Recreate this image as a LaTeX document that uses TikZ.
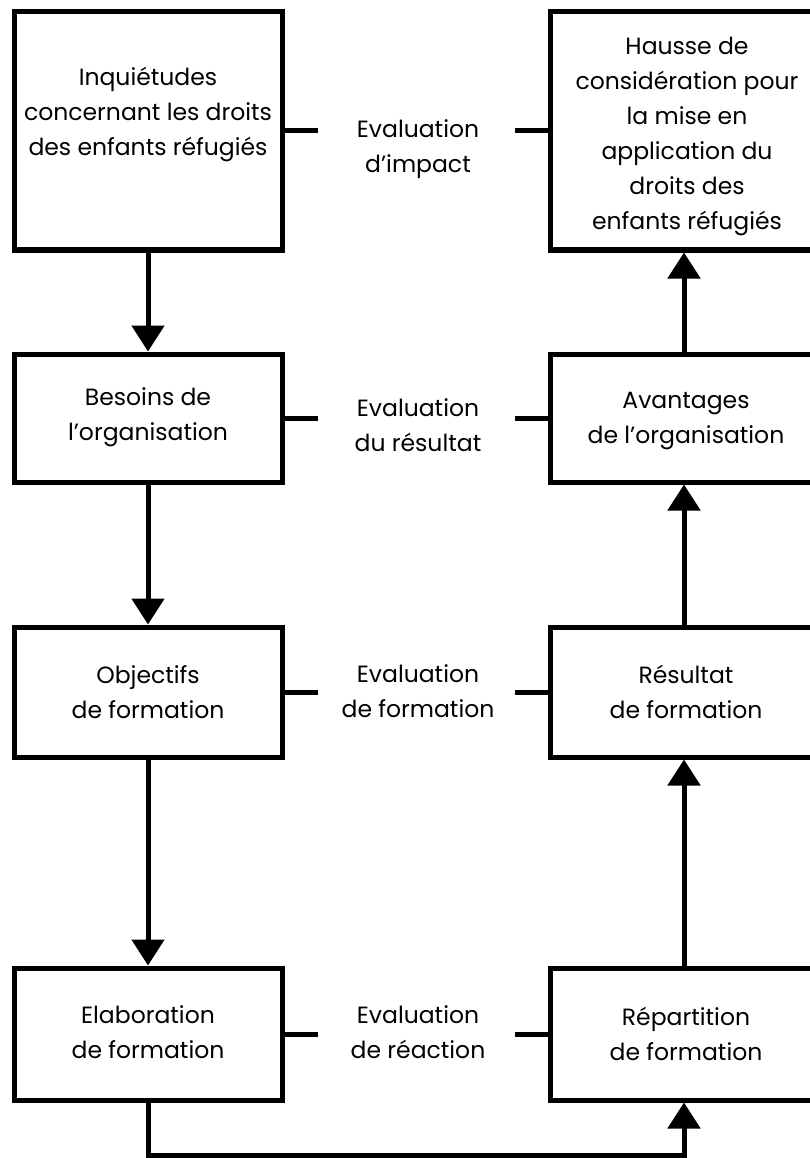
\documentclass[tikz,border=0pt]{standalone}
\usepackage{fontspec}
\setmainfont{Poppins}
\usetikzlibrary{arrows.meta}
\tikzset{
  box/.style={draw=black, line width=5pt, minimum width=268pt, inner sep=0pt},
  txt/.style={align=center, inner sep=0pt, text=black,
    font=\fontsize{23.5}{35}\selectfont},
  stub/.style={line width=5pt},
  arr/.style={line width=5pt, -{Triangle[length=26pt,width=32pt]}}
}
\begin{document}
\begin{tikzpicture}[x=1pt,y=-1pt]
\useasboundingbox (0,0) rectangle (810,1158);
\fill[white] (0,0) rectangle (810,1158);
\clip (0,0) rectangle (810,1158);

% left column
\node[box, minimum height=238pt] (b1) at (148,131) {};
\node[box, minimum height=128pt] (b2) at (148,418) {};
\node[box, minimum height=130pt] (b3) at (148,692) {};
\node[box, minimum height=132pt] (b4) at (148,1034) {};
% right column
\node[box, minimum height=238pt] (r1) at (684,131) {};
\node[box, minimum height=128pt] (r2) at (684,418) {};
\node[box, minimum height=130pt] (r3) at (684,692) {};
\node[box, minimum height=132pt] (r4) at (684,1034) {};

% box texts
\node[txt] (tb1) at (148,114) {Inquiétudes\\concernant les droits\\des enfants réfugiés};
\node[txt] (tb2) at (148,417) {Besoins de\\l’organisation};
\node[txt] (tb3) at (148,692) {Objectifs\\de formation};
\node[txt] (tb4) at (148,1032) {Elaboration\\de formation};
\node[txt] (tr1) at (687,136) {Hausse de\\considération pour\\la mise en\\application du\\droits des\\enfants réfugiés};
\node[txt] (tr2) at (686,421) {Avantages\\de l’organisation};
\node[txt] (tr3) at (686,692) {Résultat\\de formation};
\node[txt] (tr4) at (686,1034) {Répartition\\de formation};

% evaluation labels
\node[txt] (e1) at (418,149) {Evaluation\\d’impact};
\node[txt] (e2) at (418,425) {Evaluation\\du résultat};
\node[txt] (e3) at (418,691) {Evaluation\\de formation};
\node[txt] (e4) at (418,1032) {Evaluation\\de réaction};

% short stubs beside each evaluation
\foreach \n in {1,2,3,4}{
  \draw[stub] (b\n.east) -- ++(33,0);
  \draw[stub] (r\n.west) -- ++(-33,0);
}

% flow
\draw[arr] (b1.south) -- (b2.north);
\draw[arr] (b2.south) -- (b3.north);
\draw[arr] (b3.south) -- (b4.north);
\coordinate (low) at (0,1155);
\draw[arr] (b4.south) -- (b4.south |- low) -| (r4.south);
\draw[arr] (r4.north) -- (r3.south);
\draw[arr] (r3.north) -- (r2.south);
\draw[arr] (r2.north) -- (r1.south);
\end{tikzpicture}
\end{document}
